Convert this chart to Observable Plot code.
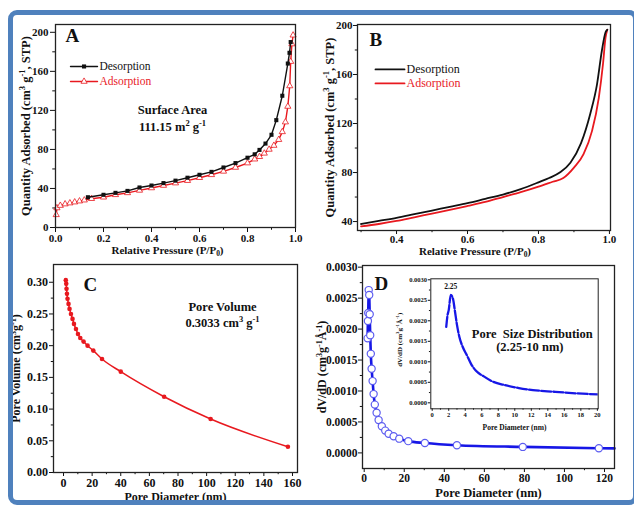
<!DOCTYPE html>
<html>
<head>
<meta charset="utf-8">
<script src="https://cdn.jsdelivr.net/npm/d3@7"></script>
<script src="https://cdn.jsdelivr.net/npm/@observablehq/plot@0.6"></script>
<style>
  html, body { margin: 0; padding: 0; background: #ffffff; }
  #fig { position: relative; width: 634px; height: 505px; overflow: hidden; background: #ffffff; }
  #border { position: absolute; left: 8px; top: 10px; width: 630px; height: 495px; box-sizing: border-box;
            border: 5px solid #4f81bd; border-radius: 9px; pointer-events: none; }
  .pn { position: absolute; }
</style>
</head>
<body>
<div id="fig"><div id="border"></div></div>
<script>
// ---------------- DATA ----------------
// Panel A: N2 isotherm with markers
const aDesP = [0.135,0.2,0.25,0.3,0.35,0.4,0.45,0.5,0.55,0.6,0.65,0.7,0.75,0.8,0.83,0.85,0.875,0.9,0.92,0.945,0.968,0.975,0.98];
const aDesQ = [31,33.5,35.5,37.5,41,43,45.5,48,51,54,57,61.5,66,71.5,75,79.5,86,95,110,135,168,179,190];
const aAdsP = [0.003,0.006,0.02,0.04,0.06,0.08,0.1,0.12,0.15,0.2,0.25,0.3,0.35,0.4,0.45,0.5,0.55,0.6,0.65,0.7,0.75,0.8,0.83,0.85,0.87,0.89,0.91,0.93,0.945,0.958,0.968,0.976,0.98,0.985,0.99];
const aAdsQ = [13,20,22.5,24,25,26,27,28,29.5,31,33.5,35.5,38,40.5,43,45.5,48,51,54,57.5,61.5,66,70,72.5,76,80,84,90,98,108,124,145,170,188,197];
// Panel B: zoomed isotherm (lines)
const bDesP = [0.3,0.35,0.4,0.45,0.5,0.55,0.6,0.65,0.7,0.75,0.8,0.83,0.86,0.89,0.92,0.946,0.965,0.979,0.989,0.994];
const bDesQ = [38,40.5,43,46,49,52,55,58.5,62,66.5,72,75.5,80,88,104,128,152,180,194.5,196.5];
const bAdsP = [0.3,0.35,0.4,0.45,0.5,0.55,0.6,0.65,0.7,0.75,0.8,0.84,0.87,0.9,0.927,0.951,0.97,0.982,0.989,0.994];
const bAdsQ = [36,38,40.5,43.5,46.5,49.5,52.7,56,60,64,68.5,72.5,75.5,84,95,114,141,169,190,196.5];
// Panel C: cumulative pore volume
const cDiam = [1.6,1.9,2.1,2.4,2.8,3.5,4.2,5.2,6.3,7.3,8.7,10.1,11.7,14,16.8,20.8,26.9,40,70.3,102.8,156.8];
const cVol  = [0.3033,0.2975,0.2896,0.2817,0.2738,0.2659,0.258,0.25,0.2422,0.2343,0.2264,0.2185,0.2122,0.2064,0.2,0.1922,0.179,0.159,0.1195,0.0843,0.0406];
// Panel D: pore size distribution (last value is the line's end at the frame edge)
const dDiam = [1.7,1.85,2.0,2.25,2.5,2.75,3.0,3.3,3.7,4.2,4.7,5.3,6.2,7.2,8.8,10.5,12.2,14.7,17.5,22,30.3,46.3,79.2,117.2,125];
const dVal  = [0.00185,0.00213,0.00226,0.00263,0.00255,0.00224,0.0019,0.0016,0.00136,0.00116,0.00095,0.00078,0.00065,0.00053,0.00043,0.00036,0.00031,0.00027,0.00023,0.00019,0.00016,0.000124,0.0000968,0.0000753,0.0000725];
// tick values
const aXTicks = [0,0.2,0.4,0.6,0.8,1.0], aXMinor = [0.1,0.3,0.5,0.7,0.9];
const aYTicks = [0,40,80,120,160,200],  aYMinor = [20,60,100,140,180];
const bXTicks = [0.4,0.6,0.8,1.0],      bXMinor = [0.3,0.5,0.7,0.9];
const bYTicks = [40,80,120,160,200],    bYMinor = [60,100,140,180];
const cXTicks = [0,20,40,60,80,100,120,140,160], cXMinor = [10,30,50,70,90,110,130,150];
const cYTicks = [0,0.05,0.1,0.15,0.2,0.25,0.3],  cYMinor = [0.025,0.075,0.125,0.175,0.225,0.275];
const dXTicks = [0,20,40,60,80,100,120],         dXMinor = [10,30,50,70,90,110];
const dYTicks = [0,0.0005,0.001,0.0015,0.002,0.0025,0.003], dYMinor = [0.00025,0.00075,0.00125,0.00175,0.00225,0.00275];
const iXTicks = [0,2,4,6,8,10,12,14,16,18,20],   iXMinor = [1,3,5,7,9,11,13,15,17,19];
const iYTicks = dYTicks, iYMinor = dYMinor;
// labels
const pressureLabel = "Relative Pressure (P/P_{0})";
const quantityLabel = "Quantity Adsorbed (cm^{3} g^{-1}, STP)";
const diamLabel = "Pore Diameter (nm)";
const volLabel = "Pore Volume (cm^{3}g^{-1})";
const dvdLabel = "dV/dD (cm^{3}g^{-1}Å^{-1})";
const seriesNames = ["Desorption", "Adsorption"];

// ---------------- HELPERS ----------------
const zip = (xs, ys) => xs.map((x, i) => ({x, y: ys[i]}));
const RED = "#e8191f", BLUE = "#1717e6";
const serif = "'Liberation Serif','Times New Roman',serif";
const fig = document.getElementById("fig");

function richify(svg) {
  for (const t of svg.querySelectorAll("text")) {
    const s = t.textContent;
    if (!/[\^_]\{/.test(s)) continue;
    const fs = parseFloat(getComputedStyle(t).fontSize) || 11;
    const parts = s.split(/(\^\{[^}]*\}|_\{[^}]*\})/);
    t.textContent = "";
    let shift = 0;
    for (const p of parts) {
      if (!p) continue;
      const ts = document.createElementNS("http://www.w3.org/2000/svg", "tspan");
      let target = 0, txt = p;
      if (p.startsWith("^{")) { target = -0.38 * fs; txt = p.slice(2, -1); ts.setAttribute("font-size", (0.68 * fs).toFixed(2)); }
      else if (p.startsWith("_{")) { target = 0.22 * fs; txt = p.slice(2, -1); ts.setAttribute("font-size", (0.68 * fs).toFixed(2)); }
      const d = target - shift;
      if (d) ts.setAttribute("dy", d.toFixed(2));
      shift = target;
      ts.textContent = txt;
      t.appendChild(ts);
    }
  }
}
function mount(svg, left, top) {
  const d = document.createElement("div");
  d.className = "pn";
  d.style.left = left + "px"; d.style.top = top + "px";
  d.appendChild(svg);
  fig.insertBefore(d, document.getElementById("border"));
  richify(svg);
}
function axes(o) {
  const {xt, xm, yt, ym, xf, yf, size = 5, pad = 2, fs = 11} = o;
  const common = {label: null, fontSize: fs, fontWeight: "bold", fontFamily: serif, stroke: "#111", strokeWidth: 1};
  return [
    Plot.axisX(xm, {...common, tickSize: size * 0.55, tickFormat: () => ""}),
    Plot.axisX(xt, {...common, tickSize: size, tickPadding: pad, tickFormat: xf}),
    Plot.axisY(ym, {...common, tickSize: size * 0.55, tickFormat: () => ""}),
    Plot.axisY(yt, {...common, tickSize: size, tickPadding: pad, tickFormat: yf})
  ];
}
const svgStyle = {background: "transparent", fontFamily: serif, fontWeight: "bold", fontSize: "11px", color: "#111", overflow: "visible", maxWidth: "none"};
function label(txt, o) { return Plot.text([txt], {text: d => d, fontSize: 11, fontWeight: "bold", fontFamily: serif, fill: "#111", lineAnchor: "middle", textAnchor: "middle", ...o}); }

// ---------------- PANEL A ----------------
{
  const des = zip(aDesP, aDesQ), ads = zip(aAdsP, aAdsQ);
  const svg = Plot.plot({
    width: 317, height: 262, marginLeft: 55, marginRight: 22, marginTop: 24, marginBottom: 35,
    x: {domain: [0, 1]}, y: {domain: [0, 208]},
    style: svgStyle,
    marks: [
      ...axes({xt: aXTicks, xm: aXMinor, yt: aYTicks, ym: aYMinor, xf: d3.format(".1f"), yf: d3.format("d"), size: 5, pad: 2, fs: 11}),
      Plot.line(ads, {x: "x", y: "y", stroke: RED, strokeWidth: 1.4}),
      Plot.dot(ads, {x: "x", y: "y", symbol: "triangle", r: 2.3, stroke: RED, strokeWidth: 0.8, fill: "#fff"}),
      Plot.line(des, {x: "x", y: "y", stroke: "#111", strokeWidth: 1.4}),
      Plot.dot(des, {x: "x", y: "y", symbol: "square", r: 2.3, fill: "#111"}),
      // legend
      Plot.line([[0.0625, 165], [0.175, 165]], {x: d => d[0], y: d => d[1], stroke: "#111", strokeWidth: 1.4}),
      Plot.dot([[0.119, 165]], {x: d => d[0], y: d => d[1], symbol: "square", r: 2.3, fill: "#111"}),
      Plot.text([seriesNames[0]], {x: 0.183, y: 165, text: d => d, textAnchor: "start", fontSize: 11.5, fontWeight: "normal", fontFamily: serif, fill: "#111"}),
      Plot.line([[0.0625, 149.6], [0.175, 149.6]], {x: d => d[0], y: d => d[1], stroke: RED, strokeWidth: 1.4}),
      Plot.dot([[0.119, 149.6]], {x: d => d[0], y: d => d[1], symbol: "triangle", r: 2.3, stroke: RED, strokeWidth: 0.8, fill: "#fff"}),
      Plot.text([seriesNames[1]], {x: 0.183, y: 149.6, text: d => d, textAnchor: "start", fontSize: 11.5, fontWeight: "normal", fontFamily: serif, fill: RED}),
      // annotations
      Plot.text(["A"], {text: d => d, frameAnchor: "top-left", dx: 10, dy: 4, lineAnchor: "top", textAnchor: "start", fontSize: 19, fontWeight: "bold", fontFamily: serif, fill: "#111"}),
      label("Surface Area", {frameAnchor: "top-left", dx: 117, dy: 85, fontSize: 12.5}),
      label("111.15 m^{2} g^{-1}", {frameAnchor: "top-left", dx: 117, dy: 102, fontSize: 12.5}),
      label(pressureLabel, {frameAnchor: "bottom", dy: 22.5, dx: -8, fontSize: 11}),
      label(quantityLabel, {frameAnchor: "left", dx: -30, rotate: -90, fontSize: 12.5}),
      Plot.frame({stroke: "#222", strokeWidth: 1.3})
    ]
  });
  mount(svg, 0, 0);
}

// ---------------- PANEL B ----------------
{
  const des = zip(bDesP, bDesQ), ads = zip(bAdsP, bAdsQ);
  const svg = Plot.plot({
    width: 317, height: 262, marginLeft: 40, marginRight: 24, marginTop: 24, marginBottom: 32,
    x: {domain: [0.29, 1.003]}, y: {domain: [32.7, 200.8]},
    style: svgStyle,
    marks: [
      ...axes({xt: bXTicks, xm: bXMinor, yt: bYTicks, ym: bYMinor, xf: d3.format(".1f"), yf: d3.format("d"), size: 4, pad: 1, fs: 11}),
      Plot.line(ads, {x: "x", y: "y", stroke: RED, strokeWidth: 1.8, curve: "monotone-x", clip: true}),
      Plot.line(des, {x: "x", y: "y", stroke: "#111", strokeWidth: 1.8, curve: "monotone-x", clip: true}),
      Plot.line([[0.3407, 164.1], [0.4225, 164.1]], {x: d => d[0], y: d => d[1], stroke: "#111", strokeWidth: 1.8}),
      Plot.text([seriesNames[0]], {x: 0.428, y: 164.1, text: d => d, textAnchor: "start", fontSize: 12, fontWeight: "normal", fontFamily: serif, fill: "#111"}),
      Plot.line([[0.3407, 152.7], [0.4225, 152.7]], {x: d => d[0], y: d => d[1], stroke: RED, strokeWidth: 1.8}),
      Plot.text([seriesNames[1]], {x: 0.428, y: 152.7, text: d => d, textAnchor: "start", fontSize: 12, fontWeight: "normal", fontFamily: serif, fill: RED}),
      Plot.text(["B"], {text: d => d, frameAnchor: "top-left", dx: 12, dy: 8, lineAnchor: "top", textAnchor: "start", fontSize: 19, fontWeight: "bold", fontFamily: serif, fill: "#111"}),
      label(pressureLabel, {frameAnchor: "bottom", dy: 21, dx: -9, fontSize: 11}),
      label(quantityLabel, {frameAnchor: "left", dx: -28, rotate: -90, fontSize: 12.5}),
      Plot.frame({stroke: "#222", strokeWidth: 1.3})
    ]
  });
  mount(svg, 317, 0);
}

// ---------------- PANEL C ----------------
{
  const pts = zip(cDiam, cVol);
  const svg = Plot.plot({
    width: 317, height: 250, marginLeft: 53, marginRight: 20, marginTop: 9, marginBottom: 33,
    x: {domain: [-7, 163.5]}, y: {domain: [0, 0.328]},
    style: svgStyle,
    marks: [
      ...axes({xt: cXTicks, xm: cXMinor, yt: cYTicks, ym: cYMinor, xf: d3.format("d"), yf: d3.format(".2f"), size: 4, pad: 1.5, fs: 12}),
      Plot.line(pts, {x: "x", y: "y", stroke: RED, strokeWidth: 1.5, curve: "monotone-x"}),
      Plot.dot(pts, {x: "x", y: "y", r: 2.3, fill: RED}),
      Plot.text(["C"], {text: d => d, frameAnchor: "top-left", dx: 30, dy: 12.5, lineAnchor: "top", textAnchor: "start", fontSize: 19, fontWeight: "bold", fontFamily: serif, fill: "#111"}),
      label("Pore Volume", {frameAnchor: "top-left", dx: 169, dy: 42, fontSize: 12.5}),
      label("0.3033 cm^{3} g^{-1}", {frameAnchor: "top-left", dx: 169, dy: 58, fontSize: 12.5}),
      label(diamLabel, {frameAnchor: "bottom", dy: 24.5, fontSize: 12}),
      label(volLabel, {frameAnchor: "left", dx: -37, rotate: -90, fontSize: 12}),
      Plot.frame({stroke: "#222", strokeWidth: 1.3})
    ]
  });
  mount(svg, 0, 255);
}

// ---------------- PANEL D ----------------
{
  const pts = zip(dDiam, dVal);
  const svg = Plot.plot({
    width: 317, height: 250, marginLeft: 45, marginRight: 20, marginTop: 10, marginBottom: 37,
    x: {domain: [-0.85, 125]}, y: {domain: [-0.000252, 0.003027]},
    style: svgStyle,
    marks: [
      ...axes({xt: dXTicks, xm: dXMinor, yt: dYTicks, ym: dYMinor, xf: d3.format("d"), yf: d3.format(".4f"), size: 4, pad: 1, fs: 11.5}),
      Plot.line(pts, {x: "x", y: "y", stroke: BLUE, strokeWidth: 2.6, curve: "monotone-x"}),
      Plot.dot(pts.slice(0, -1), {x: "x", y: "y", r: 3.6, fill: "#fff", stroke: "#5c5cf0", strokeWidth: 1.2}),
      Plot.text(["D"], {text: d => d, frameAnchor: "top-left", dx: 12, dy: 10.5, lineAnchor: "top", textAnchor: "start", fontSize: 19, fontWeight: "bold", fontFamily: serif, fill: "#111"}),
      label(diamLabel, {frameAnchor: "bottom", dy: 24, fontSize: 12.5}),
      label(dvdLabel, {frameAnchor: "left", dx: -40, rotate: -90, fontSize: 12}),
      Plot.frame({stroke: "#222", strokeWidth: 1.3})
    ]
  });
  mount(svg, 317, 255);
}

// ---------------- INSET (D) ----------------
{
  const pts = zip(dDiam, dVal);
  const peak = pts.reduce((a, b) => (b.y > a.y ? b : a));
  const svg = Plot.plot({
    width: 215, height: 167, marginLeft: 40.3, marginRight: 7.3, marginTop: 10.3, marginBottom: 26.7,
    x: {domain: [-0.17, 20.1]}, y: {domain: [-0.000146, 0.003024]},
    style: {...svgStyle, fontSize: "7px"},
    marks: [
      ...axes({xt: iXTicks, xm: iXMinor, yt: iYTicks, ym: iYMinor, xf: d3.format("d"), yf: d3.format(".4f"), size: 2.5, pad: 1.2, fs: 6.5}),
      Plot.line(pts, {x: "x", y: "y", stroke: BLUE, strokeWidth: 2.3, strokeDasharray: "10,2.2", curve: "monotone-x", clip: true}),
      Plot.text([peak], {x: "x", y: "y", text: d => d3.format(".2f")(d.x), dy: -8, fontSize: 7.5, fontWeight: "bold", fontFamily: serif, fill: "#111"}),
      label("Pore  Size Distribution", {frameAnchor: "top-left", dx: 101.5, dy: 55.5, fontSize: 12.5}),
      label("(2.25-10 nm)", {frameAnchor: "top-left", dx: 99, dy: 68.5, fontSize: 12.5}),
      label(diamLabel, {frameAnchor: "bottom", dy: 18.5, fontSize: 7.5}),
      label(dvdLabel, {frameAnchor: "left", dx: -31.5, dy: -4, rotate: -90, fontSize: 7}),
      Plot.frame({stroke: "#222", strokeWidth: 1})
    ]
  });
  mount(svg, 390, 268);
}
</script>
</body>
</html>
